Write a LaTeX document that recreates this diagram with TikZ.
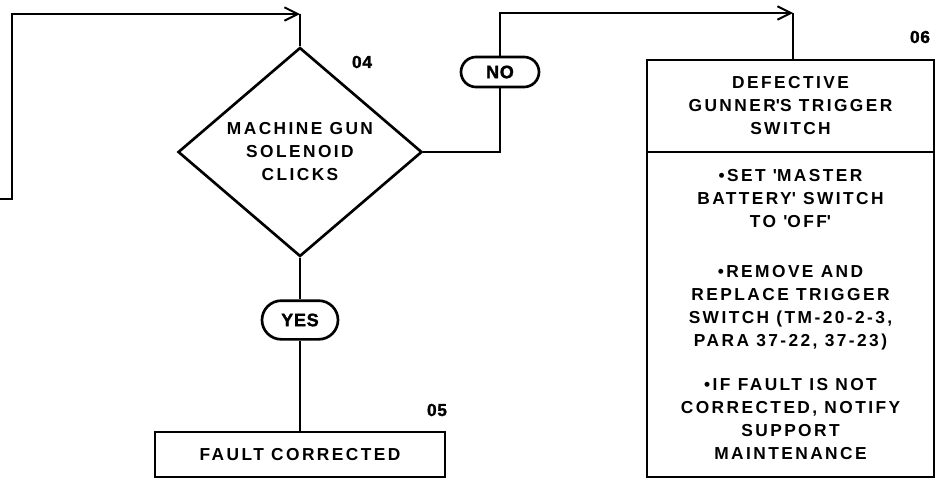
\documentclass[tikz,border=0pt]{standalone}
\usepackage{fontspec}
\setmainfont{Liberation Sans}[LetterSpace=14]
\newfontfamily\tagfont{Liberation Sans}[LetterSpace=4, BoldFeatures={FakeBold=1.5}]
\usetikzlibrary{shapes.geometric,shapes.misc,arrows.meta,positioning}
\newcommand\flowfont{\fontsize{13}{17.25}\selectfont\bfseries}
\tikzset{
  flow/.style = {line width=2pt},
  arr/.style  = {flow, -{Straight Barb[length=10pt,width=10pt,line width=1.5pt]}},
  dec/.style  = {draw, flow, diamond, aspect=1.17, inner sep=0pt,
                 minimum width=183pt, minimum height=156.75pt, align=center},
  blk/.style  = {draw, flow, rectangle, inner sep=0pt, outer sep=0pt, align=center},
  ovl/.style  = {draw, flow, rounded rectangle, inner sep=0pt,
                 font=\fontsize{13.5}{16}\selectfont\tagfont\bfseries},
  num/.style  = {font=\fontsize{13}{15}\selectfont\tagfont\bfseries}
}

\begin{document}
\begin{tikzpicture}[x=0.75pt, y=-0.75pt, every node/.append style={font=\flowfont}]
\useasboundingbox (0,0) rectangle (945,479);
% decision 04
\node (dia) [dec] at (300,152) {MACHINE GUN\\SOLENOID\\CLICKS};
\node [num] at (362,62) {04};
\coordinate (in0) at (0,199);
\coordinate (top04) at (300,14);
\draw [arr] (in0) -- ++(12,0) |- (top04);
\draw [flow] (top04) -- (dia.north);
% NO branch
\node (no) [ovl, minimum width=58.5pt, minimum height=22.5pt] at (500,72) {NO};
\draw [flow] (dia.east) -| (no.south);
\node (fault06) [blk, minimum width=215.25pt, minimum height=69pt] at (790.5,106)
  {DEFECTIVE\\GUNNER\textquotesingle S TRIGGER\\SWITCH};
\node (act06) [blk, below=0pt of fault06, minimum width=215.25pt, minimum height=243.75pt]
  {\textbullet SET \textquotesingle MASTER\\
   BATTERY\textquotesingle{} SWITCH\\
   TO \textquotesingle OFF\textquotesingle\\[20pt]
   \textbullet REMOVE AND\\
   REPLACE TRIGGER\\
   SWITCH (TM-20-2-3,\\
   PARA 37-22, 37-23)\\[16pt]
   \textbullet IF FAULT IS NOT\\
   CORRECTED, NOTIFY\\
   SUPPORT\\
   MAINTENANCE};
\node [num] at (920,37) {06};
\coordinate (top06) at (793,13);
\draw [arr] (no.north) |- (top06);
\draw [flow] (top06) -- (top06 |- fault06.north);
% YES branch
\node (yes) [ovl, minimum width=57pt, minimum height=29pt] at (300,320) {YES};
\node (fix05) [blk, minimum width=217.5pt, minimum height=33.75pt] at (300,454.5)
  {FAULT CORRECTED};
\node [num] at (437,410) {05};
\draw [flow] (dia.south) -- (yes.north);
\draw [flow] (yes.south) -- (fix05.north);
\end{tikzpicture}
\end{document}
